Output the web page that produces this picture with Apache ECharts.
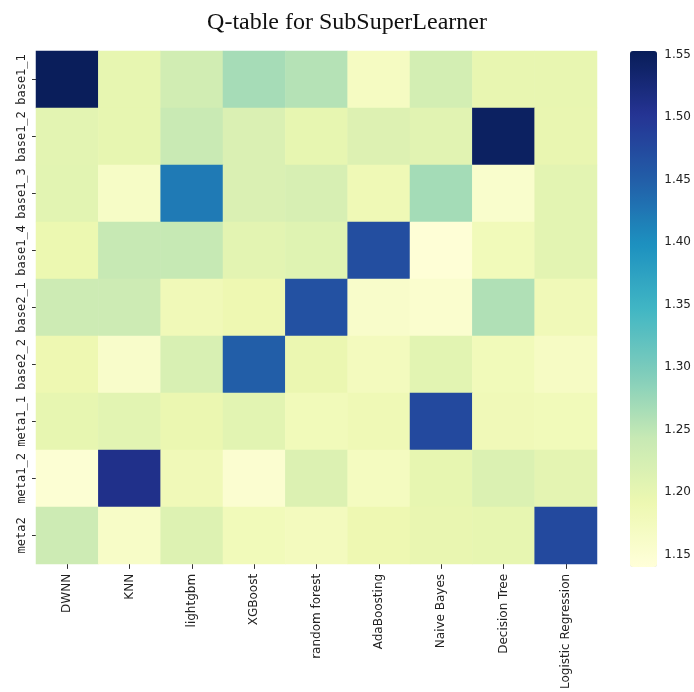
<!DOCTYPE html>
<html><head><meta charset="utf-8">
<script src="https://cdn.jsdelivr.net/npm/echarts@6/dist/echarts.min.js"></script>
<style>html,body{margin:0;padding:0;background:#fff}#c{width:694px;height:692px}</style>
</head><body><div id="c"></div>
<script>
const models = ['DWNN','KNN','lightgbm','XGBoost','random forest','AdaBoosting','Naive Bayes','Decision Tree','Logistic Regression'];
const states = ['base1_1','base1_2','base1_3','base1_4','base2_1','base2_2','meta1_1','meta1_2','meta2'];
const base1_1 = [1.550, 1.200, 1.230, 1.267, 1.256, 1.170, 1.227, 1.198, 1.198];
const base1_2 = [1.205, 1.200, 1.241, 1.218, 1.200, 1.214, 1.208, 1.545, 1.197];
const base1_3 = [1.207, 1.165, 1.421, 1.218, 1.222, 1.185, 1.268, 1.157, 1.205];
const base1_4 = [1.193, 1.243, 1.244, 1.205, 1.210, 1.470, 1.144, 1.180, 1.205];
const base2_1 = [1.235, 1.235, 1.183, 1.190, 1.466, 1.159, 1.154, 1.260, 1.183];
const base2_2 = [1.190, 1.160, 1.220, 1.450, 1.195, 1.175, 1.207, 1.180, 1.167];
const meta1_1 = [1.200, 1.207, 1.195, 1.207, 1.180, 1.185, 1.475, 1.182, 1.180];
const meta1_2 = [1.148, 1.510, 1.182, 1.152, 1.215, 1.172, 1.200, 1.216, 1.204];
const meta2   = [1.235, 1.163, 1.213, 1.180, 1.175, 1.190, 1.197, 1.200, 1.475];
const rows = [base1_1, base1_2, base1_3, base1_4, base2_1, base2_2, meta1_1, meta1_2, meta2];
const colorbarTicks = [1.15, 1.20, 1.25, 1.30, 1.35, 1.40, 1.45, 1.50, 1.55];
const vMin = 1.140, vMax = 1.553;
const ylgnbu = ['#ffffd9','#edf8b1','#c7e9b4','#7fcdbb','#41b6c4','#1d91c0','#225ea8','#253494','#081d58'];

const data = [];
rows.forEach((r, yi) => r.forEach((v, xi) => data.push([xi, yi, v])));

const chart = echarts.init(document.getElementById('c'), null, {renderer: 'canvas'});
chart.setOption({
  backgroundColor: '#fff',
  animation: false,
  title: {
    text: 'Q-table for SubSuperLearner',
    left: 'center', top: 6,
    textStyle: {fontFamily: 'Liberation Serif', fontSize: 24, fontWeight: 'normal', color: '#111'}
  },
  grid: [
    {left: 36, top: 51, width: 561, height: 515},
    {left: 630, top: 51, width: 27, height: 516}
  ],
  xAxis: [
    {type: 'category', data: models, gridIndex: 0,
     axisLine: {show: false}, splitLine: {show: false},
     axisTick: {show: true, alignWithLabel: true, interval: 0, length: 5, lineStyle: {color: '#333'}},
     axisLabel: {interval: 0, rotate: 90, fontSize: 12, color: '#222', margin: 10, fontFamily: 'DejaVu Sans'}},
    {type: 'value', gridIndex: 1, show: false, min: 0, max: 1}
  ],
  yAxis: [
    {type: 'category', data: states, inverse: true, gridIndex: 0,
     axisLine: {show: false}, splitLine: {show: false},
     axisTick: {show: true, alignWithLabel: true, interval: 0, length: 4, lineStyle: {color: '#333'}},
     axisLabel: {interval: 0, rotate: 90, fontSize: 12, color: '#222', margin: 8, fontFamily: 'DejaVu Sans Mono'}},
    {type: 'value', gridIndex: 1, min: vMin, max: vMax, position: 'right',
     axisLine: {show: false}, splitLine: {show: false},
     axisTick: {show: true, length: 5, customValues: colorbarTicks, lineStyle: {color: '#333'}},
     axisLabel: {customValues: colorbarTicks, formatter: v => v.toFixed(2), fontSize: 12, color: '#222', margin: 8, fontFamily: 'DejaVu Sans'}}
  ],
  visualMap: {
    type: 'continuous', min: vMin, max: vMax, seriesIndex: 0,
    orient: 'vertical', left: 630, top: 51, itemWidth: 27, itemHeight: 516,
    padding: 0, calculable: false, text: null, hoverLink: false,
    inRange: {color: ylgnbu}
  },
  series: [{
    type: 'heatmap', xAxisIndex: 0, yAxisIndex: 0, data: data,
    itemStyle: {borderWidth: 0},
    emphasis: {disabled: true}, progressive: 0
  }]
});
</script></body></html>
